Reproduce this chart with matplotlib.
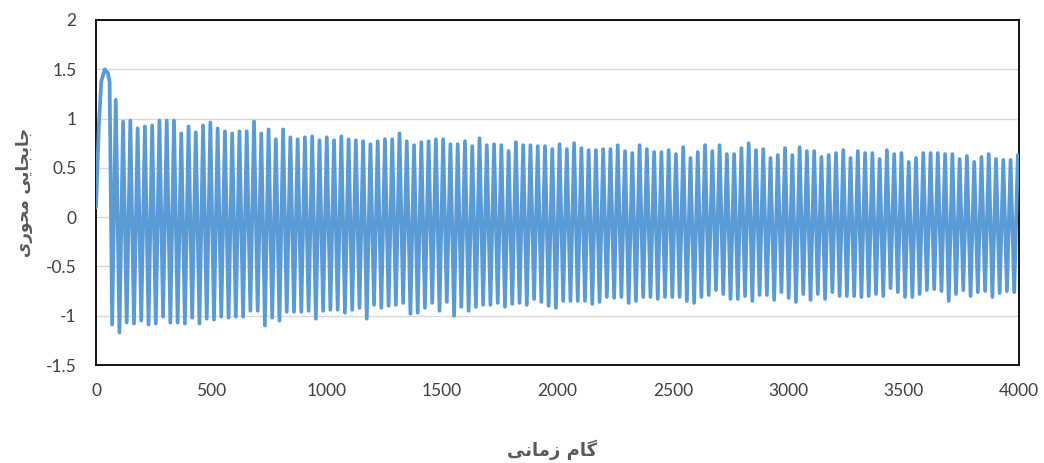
import numpy as np
import matplotlib
matplotlib.use("Agg")
import matplotlib.pyplot as plt

# labels (logical order, shaped below because matplotlib has no arabic shaping)
x_label = "گام زمانی"
y_label = "جابجایی محوری"

x_ticks = [0, 500, 1000, 1500, 2000, 2500, 3000, 3500, 4000]
y_ticks = [-1.5, -1, -0.5, 0, 0.5, 1, 1.5, 2]

# start of the response, before the steady oscillation
start_steps = [0, 13, 23, 38, 52, 59]
start_vals = [0.10, 0.96, 1.38, 1.50, 1.46, 1.37]

# oscillation: each cycle is a trough then a peak
first_extreme_step = 70
last_extreme_step = 3995

peaks = [1.19, 0.97, 0.98, 0.90, 0.92, 0.93, 0.98, 0.98, 0.98, 0.85,
         0.92, 0.86, 0.93, 0.96, 0.90, 0.87, 0.85, 0.87, 0.87, 0.97,
         0.85, 0.89, 0.79, 0.89, 0.81, 0.79, 0.81, 0.82, 0.78, 0.81,
         0.78, 0.82, 0.79, 0.78, 0.77, 0.74, 0.77, 0.79, 0.79, 0.85,
         0.77, 0.73, 0.76, 0.77, 0.79, 0.79, 0.74, 0.74, 0.77, 0.72,
         0.80, 0.73, 0.74, 0.73, 0.67, 0.76, 0.73, 0.73, 0.72, 0.72,
         0.69, 0.74,
         0.69, 0.75, 0.70, 0.68, 0.68, 0.69, 0.69, 0.73, 0.67, 0.65,
         0.73, 0.69, 0.66, 0.66, 0.68, 0.64, 0.71, 0.60, 0.66, 0.73,
         0.67, 0.73, 0.64, 0.64, 0.70, 0.75, 0.68, 0.69, 0.60, 0.63,
         0.70,
         0.63, 0.71, 0.67, 0.67, 0.61, 0.63, 0.65, 0.68, 0.60, 0.67,
         0.65, 0.65, 0.59, 0.68, 0.64, 0.65, 0.56, 0.60, 0.65, 0.65,
         0.65, 0.64, 0.64, 0.59, 0.62, 0.56, 0.61, 0.64, 0.59, 0.58,
         0.58, 0.63]

troughs = [-1.09, -1.17, -1.07, -1.08, -1.05, -1.09, -1.08, -1.01, -1.07, -1.07,
           -1.08, -1.02, -1.08, -1.03, -1.04, -1.01, -1.02, -1.01, -1.01, -0.95,
           -0.95, -1.10, -1.02, -1.05, -0.96, -0.96, -0.96, -0.95, -1.03, -0.95,
           -0.94, -0.94, -0.97, -0.94, -0.92, -1.03, -0.89, -0.92, -0.90, -0.89,
           -0.87, -0.98, -0.97, -0.92, -0.87, -0.95, -0.86, -1.00, -0.91, -0.95,
           -0.91, -0.89, -0.89, -0.87, -0.91, -0.88, -0.87, -0.89, -0.83, -0.86,
           -0.90, -0.92,
           -0.85, -0.85, -0.85, -0.85, -0.88, -0.86, -0.81, -0.82, -0.81, -0.87,
           -0.85, -0.81, -0.81, -0.83, -0.81, -0.81, -0.81, -0.85, -0.87, -0.81,
           -0.79, -0.74, -0.78, -0.83, -0.83, -0.80, -0.85, -0.79, -0.79, -0.84,
           -0.76, -0.82,
           -0.86, -0.78, -0.84, -0.78, -0.83, -0.76, -0.80, -0.80, -0.80, -0.81,
           -0.80, -0.78, -0.80, -0.72, -0.76, -0.81, -0.81, -0.78, -0.74, -0.73,
           -0.75, -0.85, -0.78, -0.74, -0.80, -0.76, -0.75, -0.81, -0.77, -0.75,
           -0.76]


# minimal persian shaping: (isolated, final, initial, medial)
FORMS = {
    "ا": ("\uFE8D", "\uFE8E", "\uFE8D", "\uFE8E"),
    "ب": ("\uFE8F", "\uFE90", "\uFE91", "\uFE92"),
    "ج": ("\uFE9D", "\uFE9E", "\uFE9F", "\uFEA0"),
    "ح": ("\uFEA1", "\uFEA2", "\uFEA3", "\uFEA4"),
    "ر": ("\uFEAD", "\uFEAE", "\uFEAD", "\uFEAE"),
    "ز": ("\uFEAF", "\uFEB0", "\uFEAF", "\uFEB0"),
    "م": ("\uFEE1", "\uFEE2", "\uFEE3", "\uFEE4"),
    "ن": ("\uFEE5", "\uFEE6", "\uFEE7", "\uFEE8"),
    "و": ("\uFEED", "\uFEEE", "\uFEED", "\uFEEE"),
    "ی": ("\uFBFC", "\uFBFD", "\uFBFE", "\uFBFF"),
    "گ": ("\uFB92", "\uFB93", "\uFB94", "\uFB95"),
}
NO_LEFT_JOIN = set("ادذرزژو")


def shape(text):
    out = []
    for i, ch in enumerate(text):
        if ch not in FORMS:
            out.append(ch)
            continue
        prev = text[i - 1] if i > 0 else " "
        nxt = text[i + 1] if i + 1 < len(text) else " "
        join_prev = prev in FORMS and prev not in NO_LEFT_JOIN
        join_next = nxt in FORMS and ch not in NO_LEFT_JOIN
        iso, fin, ini, med = FORMS[ch]
        if join_prev and join_next:
            out.append(med)
        elif join_prev:
            out.append(fin)
        elif join_next:
            out.append(ini)
        else:
            out.append(iso)
    return "".join(out[::-1])


# build the line: start, then trough/peak pairs
ext_steps = np.linspace(first_extreme_step, last_extreme_step, 2 * len(peaks))
ext_vals = np.empty(2 * len(peaks))
ext_vals[0::2] = troughs
ext_vals[1::2] = peaks
steps = np.concatenate([start_steps, ext_steps])
vals = np.concatenate([start_vals, ext_vals])

fig = plt.figure(figsize=(10.44, 4.63), dpi=100)
ax = fig.add_axes([96 / 1044, 1 - 365 / 463, (1019 - 96) / 1044, (365 - 20) / 463])

ax.plot(steps, vals, color="#5B9BD5", lw=2.7, solid_joinstyle="round",
        solid_capstyle="round", zorder=3)

ax.set_xlim(0, 4000)
ax.set_ylim(-1.5, 2)
ax.set_xticks(x_ticks)
ax.set_yticks(y_ticks)
ax.set_xticklabels([str(t) for t in x_ticks])
ax.set_yticklabels(["%g" % t for t in y_ticks])
ax.tick_params(length=0, labelsize=12.5, labelcolor="#404040")
ax.tick_params(axis="x", pad=13)
ax.tick_params(axis="y", pad=14)
for lab in ax.get_xticklabels() + ax.get_yticklabels():
    lab.set_family(["Lato", "DejaVu Sans"])

ax.yaxis.grid(True, color="#d9d9d9", lw=1.0)
ax.set_axisbelow(True)
for sp in ax.spines.values():
    sp.set_color("black")
    sp.set_linewidth(1.3)

fig.text(552 / 1044, 1 - 450 / 463, shape(x_label), ha="center", va="center",
         fontsize=13, fontweight="bold", color="#595959", family=["DejaVu Sans"])
fig.text(24 / 1044, 1 - 192 / 463, shape(y_label), ha="center", va="center",
         rotation=90, fontsize=12, fontweight="bold", color="#595959",
         family=["DejaVu Sans"])

fig.savefig("out.png", dpi=100)
